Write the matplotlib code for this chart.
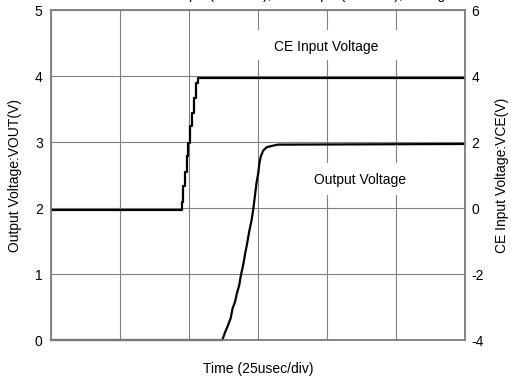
import matplotlib
matplotlib.use("Agg")
import matplotlib.pyplot as plt
from matplotlib.patches import Rectangle

plt.rcParams["font.family"] = ["Liberation Sans", "DejaVu Sans"]
plt.rcParams["font.size"] = 10
plt.rcParams["axes.unicode_minus"] = False

# Time base: 6 divisions of 25 usec
time_ticks = [0, 25, 50, 75, 100, 125, 150]
vout_ticks = [0, 1, 2, 3, 4, 5]
vce_ticks = [-4, -2, 0, 2, 4, 6]

# CE input voltage trace (usec, V) - stepped edge
ce_time = [0, 47.3, 47.9, 48.5, 49.2, 49.8, 50.4, 51.0, 51.8, 52.5, 53.4, 150]
ce_volt = [-0.06, 0.18, 0.68, 1.08, 1.58, 1.98, 2.48, 2.88, 3.34, 3.78, 3.94, 3.94]

# Output voltage trace (usec, V)
out_time = [0, 62.1, 63.0, 64.2, 65.1, 65.8, 66.7, 67.3, 68.2, 68.8, 69.7, 70.3,
            71.1, 71.8, 72.7, 73.3, 73.9, 74.5, 75.1, 75.5, 76.0, 76.9, 78.1,
            79.9, 82.2, 150]
out_volt = [0.0, 0.0, 0.11, 0.23, 0.33, 0.48, 0.58, 0.70, 0.83, 0.98, 1.15, 1.30,
            1.47, 1.64, 1.82, 1.99, 2.19, 2.39, 2.53, 2.68, 2.78, 2.87, 2.92,
            2.94, 2.96, 2.97]

title_text = "CIN=1.0\u03bcF (ceramic), CL=1.0\u03bcF (ceramic), Rising"

fig = plt.figure(figsize=(5.11, 3.76), dpi=100)
ax = fig.add_axes([51 / 511, 36 / 376, 414 / 511, 330 / 376])
ax2 = ax.twinx()

grid_color = "#808080"
ax.set_xlim(time_ticks[0], time_ticks[-1])
ax.set_ylim(vout_ticks[0], vout_ticks[-1])
ax2.set_ylim(vce_ticks[0], vce_ticks[-1])
ax.set_xticks(time_ticks)
ax.set_xticklabels([])
ax.set_yticks(vout_ticks)
ax2.set_yticks(vce_ticks)
ax.set_axisbelow(True)
ax.grid(True, color=grid_color, linewidth=0.8)

for a in (ax, ax2):
    for s in a.spines.values():
        s.set_color(grid_color)
        s.set_linewidth(1.1)
ax.tick_params(axis="both", length=0, pad=6, labelsize=10)
ax2.tick_params(axis="y", length=0, pad=4.5, labelsize=10)

# White label boxes that break the grid
ax.add_patch(Rectangle((72.5, 4.24), 54.3, 0.46, facecolor="white",
                       edgecolor="none", zorder=1))
ax.add_patch(Rectangle((84.8, 2.20), 54.3, 0.48, facecolor="white",
                       edgecolor="none", zorder=1))
ax.text(99.6, 4.44, "CE Input Voltage", ha="center", va="center", zorder=3)
ax.text(112.0, 2.43, "Output Voltage", ha="center", va="center", zorder=3)

ax.plot(out_time, out_volt, color="black", linewidth=1.6, zorder=2, clip_on=False)
ax2.plot(ce_time, ce_volt, color="black", linewidth=1.6, drawstyle="steps-post")

ax.set_xlabel("Time (25usec/div)", labelpad=10)
ax.set_ylabel("Output Voltage:VOUT(V)", labelpad=9)
ax2.set_ylabel("CE Input Voltage:VCE(V)", labelpad=8)

# Condition line sits just above the top edge, only its descenders showing
fig.text(138 / 511, 1 + 0.5 / 376, title_text, ha="left", va="baseline")

fig.savefig("out.png", dpi=100)
